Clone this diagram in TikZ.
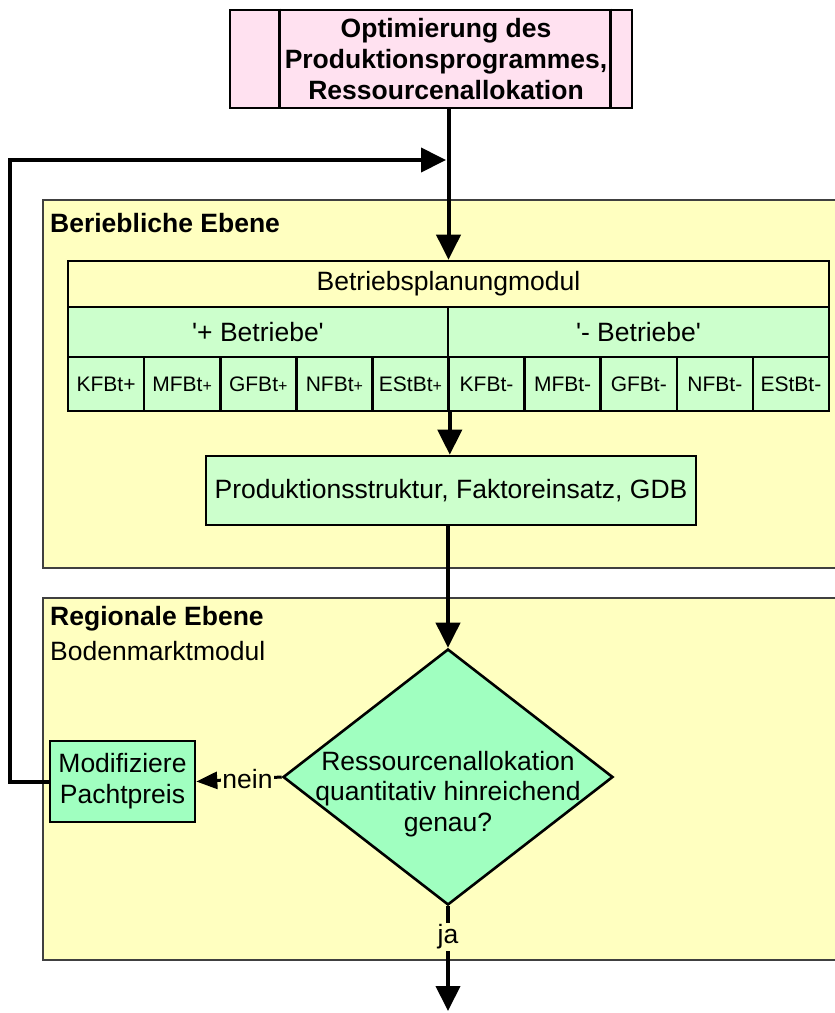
\documentclass[tikz,border=0pt]{standalone}
\usepackage{fontspec}
\setmainfont{Liberation Sans}
\usetikzlibrary{arrows.meta,shapes.geometric}

\definecolor{rosa}{RGB}{255,225,240}
\definecolor{gelb}{RGB}{255,255,192}
\definecolor{hellgruen}{RGB}{204,255,204}
\definecolor{mint}{RGB}{160,255,192}

\newcommand{\kleinplus}{{\fontsize{16}{16}\selectfont+}}

\tikzset{
  box/.style={draw,line width=2.6pt,inner sep=0pt,align=center,
    font=\fontsize{26.5}{31}\selectfont},
  ebene/.style={draw=black!75,line width=1.3pt,fill=gelb},
  zelle/.style={box,fill=hellgruen,minimum width=76.1pt,minimum height=54pt,
    font=\fontsize{21}{25}\selectfont},
  titel/.style={anchor=west,inner sep=0pt,font=\fontsize{26.5}{31}\selectfont\bfseries},
  fluss/.style={line width=4pt,-{Triangle[length=25pt,width=24pt]}},
}

\begin{document}
\begin{tikzpicture}[x=1pt,y=-1pt]
\useasboundingbox (0,0) rectangle (835,1013);
% ---------- Ebenen (Hintergrund) ----------
\draw[ebene] (43,200) rectangle (836,568);
\draw[ebene] (43,598) rectangle (836,960);
\node[titel] (betriebEbene) at (50,223) {Beriebliche Ebene};
\node[titel] (regionEbene) at (50,619) {Regionale Ebene};
\node[titel,font=\fontsize{26.5}{31}\selectfont] (bodenmarkt) at (50,651) {Bodenmarktmodul};
% ---------- Optimierung ----------
\node[box,fill=rosa,minimum width=402pt,minimum height=98pt] (opt) at (431,59) {};
\draw[line width=2.6pt] ([xshift=51pt]opt.north west) -- ([xshift=51pt]opt.south west);
\draw[line width=2.6pt] ([xshift=-23pt]opt.north east) -- ([xshift=-23pt]opt.south east);
\node[align=center,inner sep=0pt,font=\fontsize{26.5}{31}\selectfont\bfseries] (optText) at (446,59)
  {Optimierung des\\Produktionsprogrammes,\\Ressourcenallokation};
% ---------- Betriebsplanungmodul ----------
\node[box,fill=gelb,minimum width=761pt,minimum height=46pt] (modul) at (448.5,284)
  {Betriebsplanungmodul};
\node[box,fill=hellgruen,minimum width=380pt,minimum height=50pt] (plus) at (258,332)
  {\textquotesingle+ Betriebe\textquotesingle};
\node[box,fill=hellgruen,minimum width=381pt,minimum height=50pt] (minus) at (638.5,332)
  {\textquotesingle- Betriebe\textquotesingle};
\foreach \name [count=\i] in {KFBt+,MFBt\kleinplus,GFBt\kleinplus,NFBt\kleinplus,EStBt\kleinplus,
    KFBt-,MFBt-,GFBt-,NFBt-,EStBt-}
  \node[zelle] (z\i) at ({68+76.1*(\i-0.5)},384) {\name};
\node[box,fill=hellgruen,minimum width=490pt,minimum height=69pt] (prod) at (451,490.5)
  {Produktionsstruktur, Faktoreinsatz, GDB};
% ---------- Bodenmarkt ----------
\node[diamond,draw,line width=2.6pt,fill=mint,inner sep=0pt,
  minimum width=330pt,minimum height=256pt] (frage) at (448,777) {};
\node[align=center,inner sep=0pt,font=\fontsize{26.5}{30.5}\selectfont] (frageText) at (448,794)
  {Ressourcenallokation\\quantitativ hinreichend\\genau?};
\node[box,fill=mint,minimum width=145pt,minimum height=81pt] (pacht) at (122.5,781.5)
  {Modifiziere\\Pachtpreis};
% ---------- Verbindungen ----------
\coordinate (einlauf) at (446,160);
\coordinate (ende) at (448,1011);
\draw[fluss] (opt.south -| modul.north) -- (modul.north);
\draw[fluss] (z5.south east) -- (z5.south east |- prod.north);
\draw[fluss] (prod.south -| frage.north) -- (frage.north);
\draw[line width=3pt,-{Triangle[length=21pt,width=17pt]}] (frage.west) --
  node[pos=0.4,fill=gelb,inner sep=1.5pt,font=\fontsize{26.5}{31}\selectfont] (nein) {nein} (pacht.east);
\draw[fluss] (frage.south) --
  node[pos=0.29,fill=gelb,inner sep=1.5pt,font=\fontsize{26.5}{31}\selectfont] (ja) {ja} (ende);
\draw[fluss] (pacht.west) -- (10,781.5) |- (einlauf);
\end{tikzpicture}
\end{document}
